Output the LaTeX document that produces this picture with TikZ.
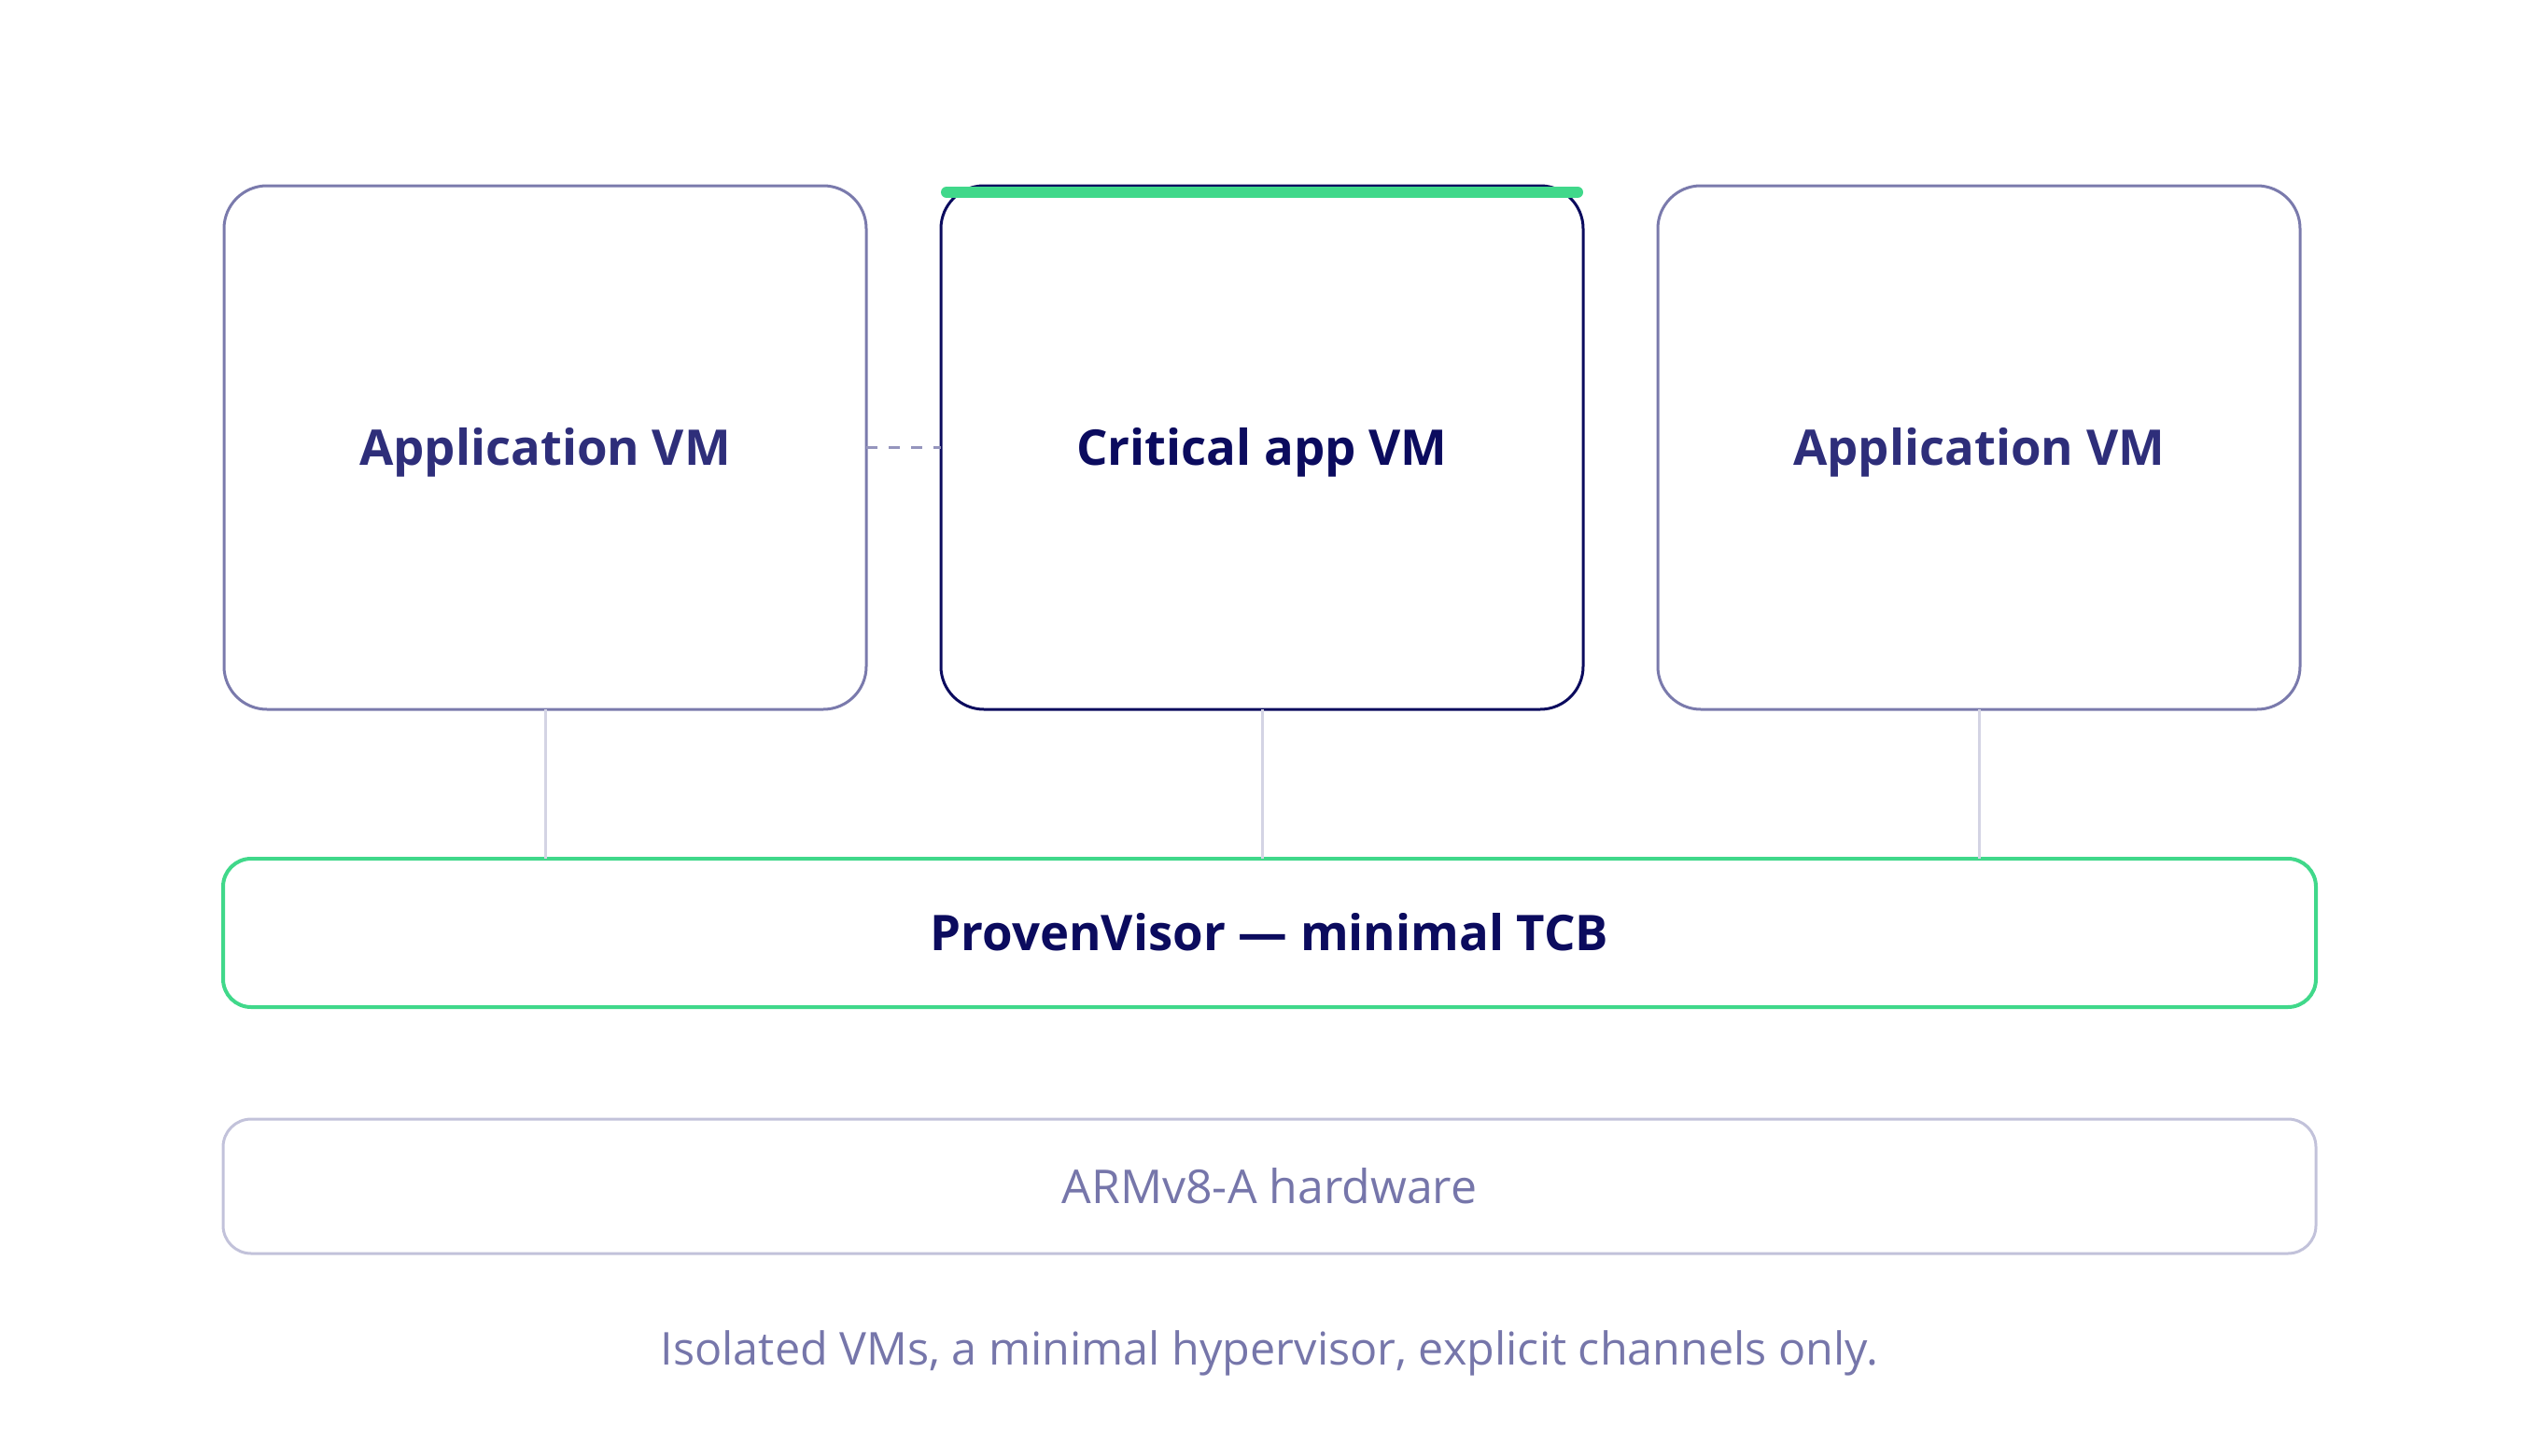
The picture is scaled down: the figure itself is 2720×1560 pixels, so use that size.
\documentclass[tikz,border=0pt]{standalone}
\usepackage{fontspec}
\setmainfont{Open Sans}
\usetikzlibrary{positioning}

\definecolor{vmline}{RGB}{122,122,172}
\definecolor{vmtext}{RGB}{46,46,122}
\definecolor{navy}{RGB}{11,11,94}
\definecolor{tcbgreen}{RGB}{64,216,138}
\definecolor{hwline}{RGB}{194,194,218}
\definecolor{mutedtext}{RGB}{118,118,170}
\definecolor{linkline}{RGB}{212,212,228}

\begin{document}
\begin{tikzpicture}[x=1pt, y=-1pt]
    % Style definitions
    \tikzset{vmbox/.style={draw=vmline, line width=3pt, rectangle, rounded corners=46pt, minimum width=688pt, minimum height=561pt, outer sep=0pt, align=center, text=vmtext, font=\fontsize{52.7}{60}\selectfont\bfseries, text height=38pt, text depth=0pt}}
    \tikzset{critbox/.style={vmbox, draw=navy, text=navy}}
    \tikzset{tcbbox/.style={draw=tcbgreen, line width=4pt, rectangle, rounded corners=30pt, minimum width=2242pt, minimum height=159pt, outer sep=0pt, text=navy, font=\fontsize{52.7}{60}\selectfont\bfseries, text height=38pt, text depth=0pt}}
    \tikzset{hwbox/.style={draw=hwline, line width=3pt, rectangle, rounded corners=30pt, minimum width=2242pt, minimum height=144pt, outer sep=0pt, text=mutedtext, font=\fontsize{50}{56}\selectfont, text height=37pt, text depth=0pt}}
    \tikzset{caption/.style={text=mutedtext, font=\fontsize{48.5}{56}\selectfont, anchor=base}}
    \tikzset{link/.style={draw=linkline, line width=3pt}}
    \tikzset{channel/.style={draw=vmline!80, line width=3pt, dash pattern=on 12pt off 12pt}}
    \tikzset{topbar/.style={draw=tcbgreen, line width=12pt, line cap=round}}

    \useasboundingbox (0,0) rectangle (2720,1560);

    % VMs
    \node [vmbox] (appL) at (584,479.5) {Application VM};
    \node [critbox, right=80pt of appL] (crit) {Critical app VM};
    \node [vmbox, right=80pt of crit] (appR) {Application VM};

    % Hypervisor and hardware
    \node [tcbbox] (tcb) at (1360,999.5) {ProvenVisor — minimal TCB};
    \node [hwbox, below=120pt of tcb] (hw) {ARMv8-A hardware};
    \node [caption] (note) at (1360,1462) {Isolated VMs, a minimal hypervisor, explicit channels only.};

    % Connectors
    \draw [link] (appL.south) -- (appL.south |- tcb.north);
    \draw [link] (crit.south) -- (crit.south |- tcb.north);
    \draw [link] (appR.south) -- (appR.south |- tcb.north);
    \draw [channel] (appL.east) -- (crit.west);
    \draw [topbar] ([xshift=6pt, yshift=-7pt]crit.north west) -- ([xshift=-6pt, yshift=-7pt]crit.north east);
\end{tikzpicture}
\end{document}
